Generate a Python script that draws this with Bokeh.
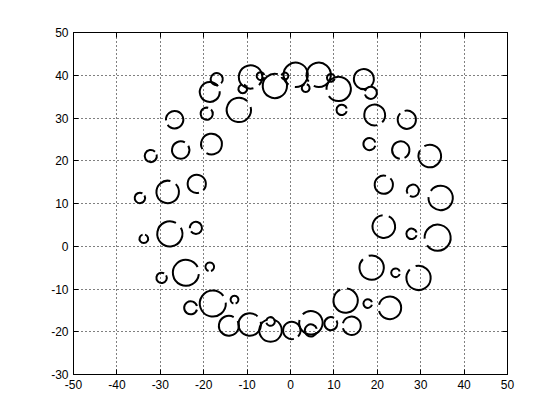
import numpy as np
from bokeh.plotting import figure
from bokeh.models import Range1d, FixedTicker, LinearAxis, CustomJSTickFormatter
from bokeh.embed import file_html
from bokeh.resources import INLINE

# circle centres (data units), radii (data units) and gap direction (degrees)
cx = [-17.0, -18.6, -9.2, -11.0, -6.9, -3.6, -1.3, 1.2, 3.5, 6.5, 9.3, 11.1, 16.9, 18.5,
      11.8, 19.4, -11.9, -19.3, -26.7, 26.8, -32.2, -25.3, -18.2, 18.2, 25.4, 32.1,
      -34.7, -28.3, -21.6, 21.5, 28.2, 34.6, -33.8, -27.8, -21.8, 21.5, 27.9, 33.9,
      -29.7, -24.1, -18.6, 18.7, 24.2, 29.5, -23.0, -17.9, -12.9, 12.7, 17.8, 22.9,
      -14.2, -9.4, -4.6, -4.6, 0.3, 4.7, 4.7, 9.3, 14.1]
cy = [39.1, 36.1, 39.6, 36.8, 39.8, 37.5, 39.8, 40.1, 37.0, 40.1, 39.4, 36.8, 39.1, 35.9,
      31.9, 30.7, 31.9, 31.0, 29.6, 29.6, 21.1, 22.5, 23.9, 23.9, 22.5, 21.1,
      11.3, 12.7, 14.6, 14.4, 13.0, 11.3, 1.75, 2.9, 4.3, 4.6, 2.9, 2.0,
      -7.4, -6.2, -4.8, -5.0, -6.2, -7.4, -14.4, -13.4, -12.5, -12.7, -13.4, -14.4,
      -18.6, -18.3, -17.6, -19.7, -19.7, -17.9, -19.7, -18.1, -18.6]
cr = [1.4, 2.3, 2.7, 1.0, 0.9, 2.8, 0.8, 2.8, 0.9, 2.8, 0.9, 2.8, 2.3, 1.4,
      1.2, 2.4, 2.8, 1.4, 2.0, 2.1, 1.4, 2.0, 2.4, 1.4, 2.0, 2.6,
      1.2, 2.6, 2.1, 2.1, 1.4, 2.8, 1.0, 2.9, 1.4, 2.6, 1.2, 3.0,
      1.2, 3.0, 1.0, 2.8, 1.0, 2.8, 1.5, 3.0, 0.9, 2.8, 1.0, 2.6,
      2.3, 2.6, 1.0, 2.6, 2.0, 2.7, 1.4, 1.5, 2.1]
gap_deg = [300, 20, 300, 90, 0, 60, 180, 250, 90, 230, 0, 200, 300, 180,
           0, 300, 30, 60, 200, 120, 30, 45, 225, 0, 280, 135,
           45, 60, 300, 60, 225, 160, 90, 45, 200, 80, 0, 200,
           45, 10, 270, 120, 0, 120, 0, 20, 270, 100, 0, 180,
           45, 30, 180, 90, 300, 150, 0, 45, 180]

x_ticks = [-50, -40, -30, -20, -10, 0, 10, 20, 30, 40, 50]
y_ticks = [-30, -20, -10, 0, 10, 20, 30, 40, 50]

gap_w = 32.0
start = [np.deg2rad(g + gap_w / 2) for g in gap_deg]
end = [np.deg2rad(g - gap_w / 2 + 360) for g in gap_deg]

p = figure(frame_width=434, frame_height=342,
           x_range=Range1d(-50, 50), y_range=Range1d(-30, 50),
           output_backend="svg", toolbar_location=None,
           min_border_left=73, min_border_right=45, min_border_top=32, min_border_bottom=38,
           background_fill_color="white", border_fill_color="white")

p.outline_line_color = "black"
p.outline_line_width = 1

plain = CustomJSTickFormatter(code="return String(tick)")
for ax, ticks in ((p.xaxis[0], x_ticks), (p.yaxis[0], y_ticks)):
    ax.ticker = FixedTicker(ticks=ticks)
    ax.formatter = plain
    ax.major_tick_in = 5
    ax.major_tick_out = 0
    ax.minor_tick_line_color = None
    ax.axis_line_color = "black"
    ax.major_tick_line_color = "black"
    ax.major_label_text_font = "Liberation Sans"
    ax.major_label_text_font_size = "12px"
    ax.major_label_text_color = "black"
    ax.major_label_standoff = 5

blank = CustomJSTickFormatter(code="return ''")
top = LinearAxis(ticker=FixedTicker(ticks=x_ticks), formatter=blank,
                 major_tick_in=5, major_tick_out=0, minor_tick_line_color=None,
                 axis_line_color="black", major_label_standoff=0)
right = LinearAxis(ticker=FixedTicker(ticks=y_ticks), formatter=blank,
                   major_tick_in=5, major_tick_out=0, minor_tick_line_color=None,
                   axis_line_color="black", major_label_standoff=0)
p.add_layout(top, "above")
p.add_layout(right, "right")

for g in (p.xgrid[0], p.ygrid[0]):
    g.grid_line_color = "black"
    g.grid_line_dash = "1 3"
    g.grid_line_width = 1
p.xgrid[0].ticker = FixedTicker(ticks=x_ticks)
p.ygrid[0].ticker = FixedTicker(ticks=y_ticks)

p.arc(x=cx, y=cy, radius=cr, start_angle=start, end_angle=end,
      line_color="black", line_width=2)

open("out.html", "w").write(file_html(p, INLINE))
